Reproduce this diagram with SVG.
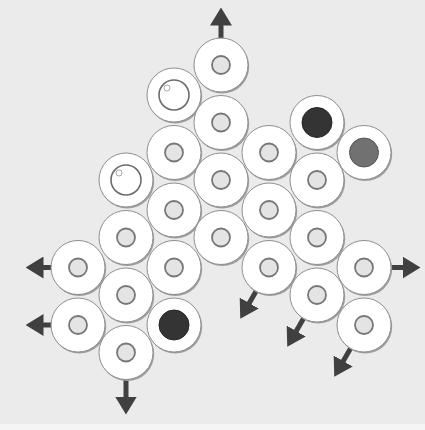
<svg xmlns="http://www.w3.org/2000/svg" xmlns:xlink="http://www.w3.org/1999/xlink" width="425" height="430" viewBox="0 0 425 430">
<style>
.sh{fill:#9e9e9e}
.dk{fill:#ffffff;stroke:#8f8f8f;stroke-width:1}
.hole{fill:#e4e4e4;stroke:#777777;stroke-width:1.8}
.ring{fill:#ffffff;stroke:#6c6c6c;stroke-width:1.6}
.hl{fill:none;stroke:#a0a0a0;stroke-width:0.9}
.dark{fill:#343434;stroke:#262626;stroke-width:1}
.grey{fill:#717171;stroke:#555555;stroke-width:1}
.ar{stroke:#404040;stroke-width:5;fill:none;marker-end:url(#head)}
</style>
<defs>
<marker id="head" markerUnits="userSpaceOnUse" viewBox="0 0 18 22" refX="0.5" refY="11" markerWidth="18" markerHeight="22" orient="auto">
<path d="M0,0 L18,11 L0,22 Z" fill="#404040"/>
</marker>
<g id="disk">
<circle class="sh" cx="1.2" cy="1.6" r="27"/>
<circle class="dk" r="27"/>
</g>
<g id="plain">
<use xlink:href="#disk"/>
<circle class="hole" r="9"/>
</g>
<g id="hollow">
<use xlink:href="#disk"/>
<circle class="ring" r="15"/>
<circle class="hl" cx="-7" cy="-7" r="3"/>
</g>
<g id="blackd">
<use xlink:href="#disk"/>
<circle class="dark" r="15"/>
</g>
<g id="greyd">
<use xlink:href="#disk"/>
<circle class="grey" r="14.5"/>
</g>
</defs>
<rect width="425" height="430" fill="#ebebeb"/>
<rect y="424" width="425" height="6" fill="#f5f5f5"/>
<g id="connectors">
<line class="ar" x1="221" y1="39" x2="221" y2="25"/>
<line class="ar" x1="52" y1="267.5" x2="43" y2="267.5"/>
<line class="ar" x1="52" y1="325" x2="43" y2="325"/>
<line class="ar" x1="390" y1="267.5" x2="403" y2="267.5"/>
<line class="ar" x1="126" y1="380" x2="126" y2="397"/>
<line class="ar" x1="256.5" y1="290.5" x2="249" y2="303.5"/>
<line class="ar" x1="303.5" y1="318.5" x2="296" y2="331.5"/>
<line class="ar" x1="350.5" y1="348.5" x2="343" y2="361.5"/>
</g>
<g id="n-3-0"><use xlink:href="#plain" x="221" y="65"/></g>
<g id="n-2-0"><use xlink:href="#hollow" x="174" y="95"/></g>
<g id="n-3-1"><use xlink:href="#plain" x="221" y="122.5"/></g>
<g id="n-5-0"><use xlink:href="#blackd" x="317" y="122.5"/></g>
<g id="n-2-1"><use xlink:href="#plain" x="174" y="152.5"/></g>
<g id="n-4-0"><use xlink:href="#plain" x="269" y="152.5"/></g>
<g id="n-6-0"><use xlink:href="#greyd" x="364" y="152.5"/></g>
<g id="n-1-0"><use xlink:href="#hollow" x="126" y="180"/></g>
<g id="n-3-2"><use xlink:href="#plain" x="221" y="180"/></g>
<g id="n-5-1"><use xlink:href="#plain" x="317" y="180"/></g>
<g id="n-2-2"><use xlink:href="#plain" x="174" y="210"/></g>
<g id="n-4-1"><use xlink:href="#plain" x="269" y="210"/></g>
<g id="n-1-1"><use xlink:href="#plain" x="126" y="237.5"/></g>
<g id="n-3-3"><use xlink:href="#plain" x="221" y="237.5"/></g>
<g id="n-5-2"><use xlink:href="#plain" x="317" y="237.5"/></g>
<g id="n-0-0"><use xlink:href="#plain" x="78" y="267.5"/></g>
<g id="n-2-3"><use xlink:href="#plain" x="174" y="267.5"/></g>
<g id="n-4-2"><use xlink:href="#plain" x="269" y="267.5"/></g>
<g id="n-6-1"><use xlink:href="#plain" x="364" y="267.5"/></g>
<g id="n-1-2"><use xlink:href="#plain" x="126" y="295"/></g>
<g id="n-5-3"><use xlink:href="#plain" x="317" y="295"/></g>
<g id="n-0-1"><use xlink:href="#plain" x="78" y="325"/></g>
<g id="n-2-4"><use xlink:href="#blackd" x="174" y="325"/></g>
<g id="n-6-2"><use xlink:href="#plain" x="364" y="325"/></g>
<g id="n-1-3"><use xlink:href="#plain" x="126" y="352.5"/></g>
</svg>
